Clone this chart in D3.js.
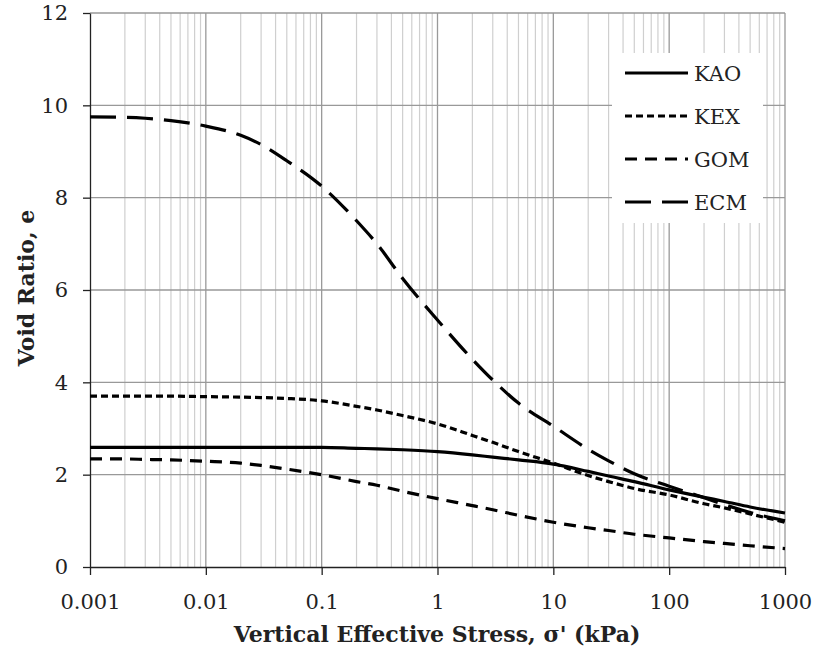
<!DOCTYPE html>
<html><head><meta charset="utf-8">
<script src="https://cdn.jsdelivr.net/npm/d3@7"></script>
<style>body{margin:0;background:#fff}svg{display:block}text{font-family:"DejaVu Serif","Liberation Serif",serif;fill:#222}</style>
</head><body>
<script>
const stress = [0.001,0.002,0.003,0.005,0.01,0.02,0.03,0.05,0.1,0.2,0.3,0.5,1,2,3,5,10,20,30,50,100,200,300,500,1000];
const KAO = [2.59,2.59,2.59,2.59,2.59,2.59,2.59,2.59,2.59,2.57,2.56,2.54,2.5,2.43,2.38,2.32,2.23,2.07,1.97,1.85,1.67,1.51,1.42,1.3,1.17];
const KEX = [3.7,3.7,3.7,3.7,3.69,3.68,3.67,3.65,3.6,3.48,3.4,3.28,3.1,2.85,2.7,2.5,2.25,1.98,1.85,1.7,1.56,1.37,1.28,1.15,0.97];
const GOM = [2.34,2.34,2.33,2.32,2.29,2.25,2.2,2.12,2.0,1.85,1.77,1.64,1.48,1.33,1.24,1.12,0.97,0.85,0.79,0.71,0.63,0.55,0.51,0.46,0.4];
const ECM = [9.75,9.74,9.72,9.67,9.55,9.35,9.15,8.8,8.25,7.5,7.0,6.25,5.35,4.5,4.05,3.55,3.05,2.55,2.3,2.02,1.75,1.5,1.35,1.18,1.0];
const seriesNames = ["KAO","KEX","GOM","ECM"];
const dashes = {KAO:null, KEX:"7,4", GOM:"12,8", ECM:"26,11"};
const xTicks = [0.001,0.01,0.1,1,10,100,1000];
const xTickLabels = ["0.001","0.01","0.1","1","10","100","1000"];
const yTicks = [0,2,4,6,8,10,12];

const W=815,H=655;
const m={l:90,t:13};
const svg=d3.select("body").append("svg").attr("width",W).attr("height",H);
const x=d3.scaleLog().domain([0.001,1000]).range([m.l,785]);
const y=d3.scaleLinear().domain([0,12]).range([567,m.t]);

// minor vertical gridlines
const minor=[];
for(let p=-3;p<3;p++){for(let k=2;k<=9;k++){minor.push(k*Math.pow(10,p));}}
svg.append("g").selectAll("line").data(minor).join("line")
  .attr("x1",d=>x(d)).attr("x2",d=>x(d)).attr("y1",y(0)).attr("y2",y(12))
  .attr("stroke","#cfcfcf").attr("stroke-width",1.2);
// major vertical gridlines
svg.append("g").selectAll("line").data(xTicks.slice(1)).join("line")
  .attr("x1",d=>x(d)).attr("x2",d=>x(d)).attr("y1",y(0)).attr("y2",y(12))
  .attr("stroke","#999").attr("stroke-width",1.3);
// horizontal gridlines
svg.append("g").selectAll("line").data(yTicks.slice(1)).join("line")
  .attr("x1",m.l).attr("x2",785).attr("y1",d=>y(d)).attr("y2",d=>y(d))
  .attr("stroke","#999").attr("stroke-width",1.3);

// axes
const xAxis=d3.axisBottom(x).tickValues(xTicks).tickFormat((d,i)=>xTickLabels[i]).tickSize(8).tickSizeOuter(0).tickPadding(19);
const gx=svg.append("g").attr("transform",`translate(0,${y(0)})`).call(xAxis);
gx.select(".domain").attr("stroke","#222").attr("stroke-width",1.3);
gx.selectAll(".tick line").attr("stroke","#222").attr("stroke-width",1.3);
gx.selectAll(".tick text").attr("font-size",21).attr("font-family","DejaVu Serif").attr("fill","#222");
const yAxis=d3.axisLeft(y).tickValues(yTicks).tickSize(7).tickSizeOuter(0).tickPadding(15);
const gy=svg.append("g").attr("transform",`translate(${m.l},0)`).call(yAxis);
gy.select(".domain").attr("stroke","#222").attr("stroke-width",1.3);
gy.selectAll(".tick line").attr("stroke","#222").attr("stroke-width",1.3);
gy.selectAll(".tick text").attr("font-size",21).attr("font-family","DejaVu Serif").attr("fill","#222");

// lines
const data={KAO,KEX,GOM,ECM};
const line=d3.line().x((d,i)=>x(stress[i])).y(d=>y(d)).curve(d3.curveMonotoneX);
const plot=svg.append("g");
seriesNames.forEach(n=>{
  plot.append("path").datum(data[n]).attr("d",line).attr("fill","none")
   .attr("stroke","#000").attr("stroke-width",3.2)
   .attr("stroke-dasharray",dashes[n]);
});

// legend
const lg=svg.append("g");
lg.append("rect").attr("x",612).attr("y",53).attr("width",151).attr("height",170).attr("fill","#fff");
seriesNames.forEach((n,i)=>{
  const yy=73+i*43;
  lg.append("line").attr("x1",625).attr("x2",688).attr("y1",yy).attr("y2",yy)
   .attr("stroke","#000").attr("stroke-width",3.2).attr("stroke-dasharray",dashes[n]);
  lg.append("text").attr("x",694).attr("y",yy+8).attr("font-size",21).text(n);
});

// titles
svg.append("text").attr("x",437).attr("y",642).attr("text-anchor","middle")
  .attr("font-size",22).attr("font-weight","bold").text("Vertical Effective Stress, σ' (kPa)");
svg.append("text").attr("transform","translate(34,288) rotate(-90)").attr("text-anchor","middle")
  .attr("font-size",22).attr("font-weight","bold").text("Void Ratio, e");
</script>
</body></html>
